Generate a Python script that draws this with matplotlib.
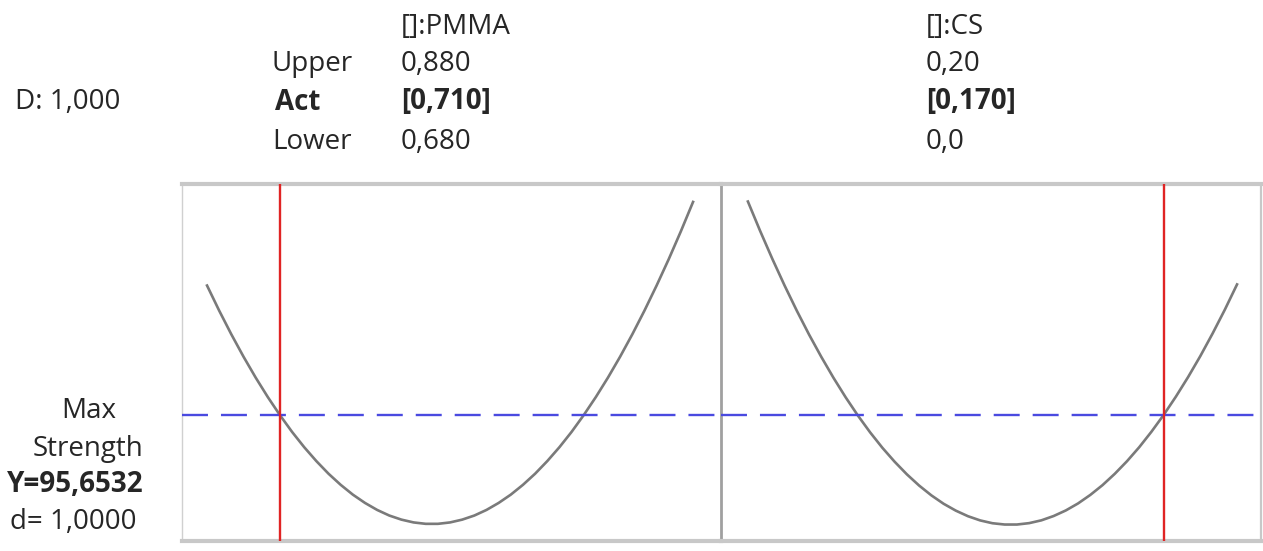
import numpy as np
import matplotlib.pyplot as plt

plt.rcParams['font.family'] = ['Open Sans', 'DejaVu Sans']

# factor grids and predicted strength along each factor
pmma_x = [0.680, 0.685, 0.690, 0.695, 0.700, 0.705, 0.710, 0.715, 0.720, 0.725,
          0.730, 0.735, 0.740, 0.745, 0.750, 0.755, 0.760, 0.765, 0.770, 0.775,
          0.780, 0.785, 0.790, 0.795, 0.800, 0.805, 0.810, 0.815, 0.820, 0.825,
          0.830, 0.835, 0.840, 0.845, 0.850, 0.855, 0.860, 0.865, 0.870, 0.875, 0.880]
pmma_y = [108.60, 106.09, 103.72, 101.49, 99.40, 97.45, 95.64, 93.96, 92.43, 91.04,
          89.78, 88.67, 87.69, 86.86, 86.16, 85.60, 85.19, 84.91, 84.77, 84.77,
          84.91, 85.19, 85.60, 86.16, 86.86, 87.69, 88.67, 89.78, 91.04, 92.43,
          93.96, 95.64, 97.45, 99.40, 101.49, 103.72, 106.09, 108.60, 111.24, 114.03, 116.96]

cs_x = [0.000, 0.005, 0.010, 0.015, 0.020, 0.025, 0.030, 0.035, 0.040, 0.045,
        0.050, 0.055, 0.060, 0.065, 0.070, 0.075, 0.080, 0.085, 0.090, 0.095,
        0.100, 0.105, 0.110, 0.115, 0.120, 0.125, 0.130, 0.135, 0.140, 0.145,
        0.150, 0.155, 0.160, 0.165, 0.170, 0.175, 0.180, 0.185, 0.190, 0.195, 0.200]
cs_y = [117.00, 114.06, 111.26, 108.60, 106.08, 103.70, 101.47, 99.37, 97.41, 95.59,
        93.91, 92.37, 90.98, 89.72, 88.60, 87.62, 86.78, 86.09, 85.53, 85.11,
        84.83, 84.70, 84.70, 84.84, 85.12, 85.55, 86.11, 86.81, 87.66, 88.64,
        89.77, 91.03, 92.43, 93.98, 95.66, 97.49, 99.45, 101.55, 103.80, 106.18, 108.71]

factor_names = ['[]:PMMA', '[]:CS']
upper = ['0,880', '0,20']
lower = ['0,680', '0,0']
current = [0.710, 0.170]
current_lbl = ['[0,710]', '[0,170]']
y_opt = 95.6532
desirability = '1,000'
d_single = '1,0000'

W, H = 1263, 551
fig = plt.figure(figsize=(W / 100, H / 100), dpi=100)


def fx(px):
    return px / W


def fy(py):
    return 1 - py / H


def txt(px, py, s, bold=False, ha='left'):
    fig.text(fx(px), fy(py), s, fontsize=20, color='#262626', ha=ha, va='center',
             fontweight='bold' if bold else 'normal')


# panel frames
y_lo, y_hi = y_opt - 12.6, y_opt + 23.1
ax1 = fig.add_axes([fx(182), fy(541), (721 - 182) / W, (541 - 184) / H])
ax2 = fig.add_axes([fx(721), fy(541), (1261 - 721) / W, (541 - 184) / H])
ax2.patch.set_visible(False)

ax1.set_xlim(0.6697, 0.8915)
ax2.set_xlim(-0.011, 0.2098)

for ax, xs, ys, xc in [(ax1, pmma_x, pmma_y, current[0]), (ax2, cs_x, cs_y, current[1])]:
    ax.set_ylim(y_lo, y_hi)
    ax.set_xticks([])
    ax.set_yticks([])
    ax.plot(xs, ys, color='#7a7a7a', lw=1.9, zorder=2, solid_joinstyle='round')
    ax.axhline(y_opt, color='#4a4ae0', lw=1.7, dashes=(11, 5.5), zorder=3)
    ax.axvline(xc, color='#e02424', lw=1.7, zorder=4)
    ax.spines['top'].set_color('#c8c8c8')
    ax.spines['top'].set_linewidth(3)
    ax.spines['bottom'].set_color('#c8c8c8')
    ax.spines['bottom'].set_linewidth(3)

ax1.spines['left'].set_color('#d0d0d0')
ax1.spines['left'].set_linewidth(1)
ax1.spines['right'].set_visible(False)
ax2.spines['left'].set_color('#a0a0a0')
ax2.spines['left'].set_linewidth(2)
ax2.spines['right'].set_color('#c8c8c8')
ax2.spines['right'].set_linewidth(1.6)

# header block
txt(15, 102, 'D: ' + desirability)
txt(272, 64, 'Upper')
txt(275, 102, 'Act', bold=True)
txt(272, 142, 'Lower')
for col_x, name, up, act, low in zip([401, 926], factor_names, upper, current_lbl, lower):
    txt(col_x, 27, name)
    txt(col_x, 64, up)
    txt(col_x, 102, act, bold=True)
    txt(col_x, 142, low)

# response block
txt(89, 411, 'Max', ha='center')
txt(88, 449, 'Strength', ha='center')
txt(7, 485, 'Y=' + f'{y_opt:.4f}'.replace('.', ','), bold=True)
txt(10, 522, 'd= ' + d_single)

fig.savefig('out.png', dpi=100)
